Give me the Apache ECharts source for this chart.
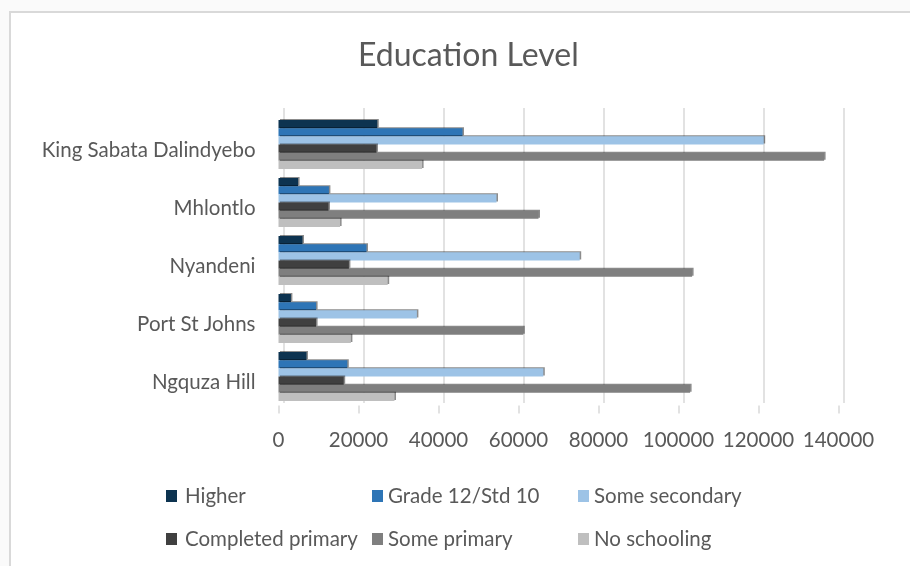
<!DOCTYPE html>
<html>
<head>
<meta charset="utf-8">
<script src="https://cdn.jsdelivr.net/npm/echarts@6/dist/echarts.min.js"></script>
<style>
  html, body { margin: 0; padding: 0; background: #fafafa; overflow: hidden; }
  #frame { position: absolute; left: 9px; top: 11px; width: 920px; height: 580px;
           background: #ffffff; border-left: 2px solid #d9d9d9; border-top: 2px solid #d9d9d9; }
  #chart { position: absolute; left: 0; top: 0; width: 910px; height: 566px; }
</style>
</head>
<body>
<div id="frame"></div>
<div id="chart"></div>
<script>
// Municipalities, top to bottom
const municipalities = ['King Sabata Dalindyebo', 'Mhlontlo', 'Nyandeni', 'Port St Johns', 'Ngquza Hill'];

// Population by highest education level reached
const higher           = [24700, 4900, 6000, 3100, 7000];
const grade12          = [46000, 12600, 22000, 9400, 17200];
const someSecondary    = [121300, 54500, 75300, 34600, 66200];
const completedPrimary = [24500, 12500, 17600, 9400, 16300];
const somePrimary      = [136400, 65000, 103400, 61200, 102900];
const noSchooling      = [35900, 15400, 27300, 18100, 29000];

const seriesNames = ['Higher', 'Grade 12/Std 10', 'Some secondary',
                     'Completed primary', 'Some primary', 'No schooling'];
const seriesValues = [higher, grade12, someSecondary, completedPrimary, somePrimary, noSchooling];
const seriesColors = ['#0d3350', '#2e75b6', '#9dc3e6', '#404040', '#7f7f7f', '#bfbfbf'];

const xTicks = { min: 0, max: 140000, interval: 20000 };

const FONT = 'Lato, "Open Sans", sans-serif';
const TXT = '#595959';
const FS = 20.5;

const chart = echarts.init(document.getElementById('chart'), null, { renderer: 'canvas' });

// legend cells: two rows of three evenly spaced columns
const legendCells = [
  { left: 166, top: 485, gap: 3 }, { left: 372, top: 485, gap: 0 }, { left: 578, top: 485, gap: 0 },
  { left: 166, top: 528, gap: 3 }, { left: 372, top: 528, gap: 0 }, { left: 578, top: 528, gap: 0 }
];

const option = {
  animation: false,
  backgroundColor: 'transparent',
  title: {
    text: 'Education Level',
    left: 353,
    top: 35,
    textStyle: { fontFamily: FONT, fontSize: 32, fontWeight: 'normal', color: TXT }
  },
  legend: seriesNames.map((name, i) => ({
    data: [name],
    left: legendCells[i].left,
    top: legendCells[i].top,
    padding: 0,
    icon: 'rect',
    itemWidth: 11,
    itemHeight: 12,
    selectedMode: false,
    textStyle: { fontFamily: FONT, fontSize: FS, lineHeight: 22, color: TXT,
                 padding: [0, 0, 0, legendCells[i].gap] }
  })),
  grid: [
    // front plane: bars and labels
    { left: 278.5, top: 115.5, width: 560, height: 290, containLabel: false },
    // back wall: gridlines, shifted for depth
    { left: 283.5, top: 108, width: 560, height: 295, containLabel: false }
  ],
  xAxis: [
    {
      gridIndex: 0, type: 'value', min: xTicks.min, max: xTicks.max, interval: xTicks.interval,
      axisLine: { show: false },
      axisTick: { show: true, length: 8, lineStyle: { color: '#d9d9d9', width: 1.5 } },
      splitLine: { show: false },
      axisLabel: { margin: 24, fontFamily: FONT, fontSize: FS, color: TXT,
                   formatter: v => String(v) }
    },
    {
      gridIndex: 1, type: 'value', min: xTicks.min, max: xTicks.max, interval: xTicks.interval,
      axisLine: { show: false }, axisTick: { show: false }, axisLabel: { show: false },
      splitLine: { show: true, lineStyle: { color: '#d9d9d9', width: 1.5 } }
    }
  ],
  yAxis: [
    {
      gridIndex: 0, type: 'category', data: municipalities, inverse: true,
      axisLine: { show: false }, axisTick: { show: false },
      // labels sit on the front floor edge, a little below each bar group
      axisLabel: { margin: 23, fontFamily: FONT, fontSize: FS, color: TXT,
                   verticalAlign: 'top', lineHeight: 12 }
    },
    {
      gridIndex: 1, type: 'category', data: municipalities, inverse: true,
      show: false
    }
  ],
  series: seriesNames.map((name, i) => ({
    name: name,
    type: 'bar',
    xAxisIndex: 0,
    yAxisIndex: 0,
    data: seriesValues[i],
    barCategoryGap: '15.5%',
    barGap: '0%',
    itemStyle: {
      color: seriesColors[i],
      shadowColor: 'rgba(0,0,0,0.45)',
      shadowBlur: 0,
      shadowOffsetX: 1.5,
      shadowOffsetY: -1
    }
  }))
};

chart.setOption(option);
</script>
</body>
</html>
